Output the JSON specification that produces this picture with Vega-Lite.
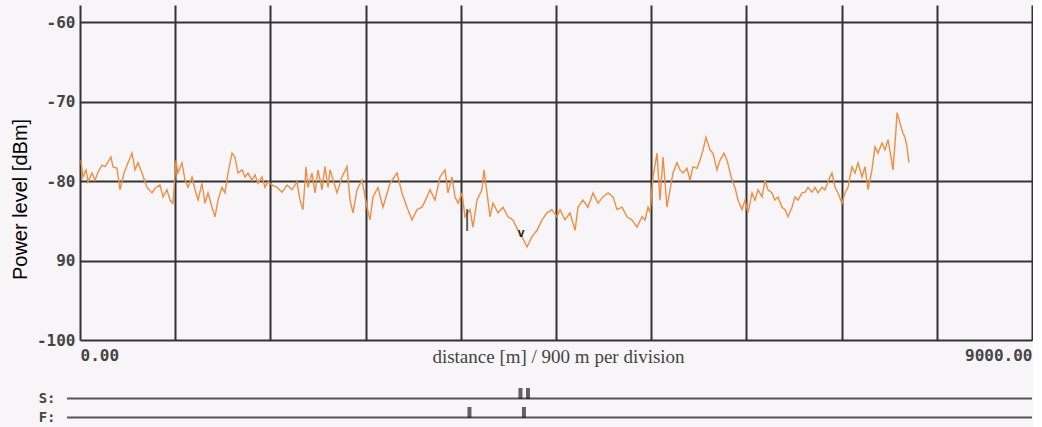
{
  "$schema": "https://vega.github.io/schema/vega-lite/v6.json",
  "autosize": {"type": "pad"},
  "padding": {"left": 10, "top": 5, "right": 0, "bottom": 0},
  "background": "#f8f5f8",
  "bounds": "flush",
  "spacing": 49,
  "config": {"view": {"stroke": null}},
  "datasets": {
    "trace": [
      {"d": 9, "p": -77.4}, {"d": 28, "p": -79.5}, {"d": 57, "p": -78.6}, {"d": 76, "p": -80.1},
      {"d": 113, "p": -79.0}, {"d": 142, "p": -79.9}, {"d": 170, "p": -78.9}, {"d": 208, "p": -78.0},
      {"d": 236, "p": -78.2}, {"d": 265, "p": -77.6}, {"d": 293, "p": -77.0}, {"d": 312, "p": -78.2},
      {"d": 350, "p": -78.4}, {"d": 378, "p": -81.1}, {"d": 416, "p": -79.0}, {"d": 454, "p": -77.7},
      {"d": 492, "p": -76.5}, {"d": 520, "p": -78.6}, {"d": 548, "p": -77.7}, {"d": 586, "p": -79.0},
      {"d": 633, "p": -80.8}, {"d": 681, "p": -81.5}, {"d": 709, "p": -80.9}, {"d": 756, "p": -80.5},
      {"d": 785, "p": -82.0}, {"d": 822, "p": -81.1}, {"d": 851, "p": -82.4}, {"d": 879, "p": -82.8},
      {"d": 908, "p": -77.4}, {"d": 926, "p": -79.0}, {"d": 964, "p": -77.7}, {"d": 993, "p": -79.9},
      {"d": 1021, "p": -80.8}, {"d": 1059, "p": -79.5}, {"d": 1087, "p": -81.1}, {"d": 1116, "p": -82.4},
      {"d": 1153, "p": -80.3}, {"d": 1182, "p": -82.8}, {"d": 1210, "p": -81.5}, {"d": 1248, "p": -83.3},
      {"d": 1276, "p": -84.5}, {"d": 1305, "p": -82.4}, {"d": 1342, "p": -80.8}, {"d": 1371, "p": -81.5},
      {"d": 1399, "p": -79.0}, {"d": 1437, "p": -76.5}, {"d": 1465, "p": -77.0}, {"d": 1494, "p": -79.0},
      {"d": 1532, "p": -78.6}, {"d": 1560, "p": -79.5}, {"d": 1588, "p": -79.0}, {"d": 1626, "p": -79.9},
      {"d": 1654, "p": -79.2}, {"d": 1683, "p": -80.3}, {"d": 1721, "p": -79.5}, {"d": 1749, "p": -80.8},
      {"d": 1777, "p": -80.1}, {"d": 1815, "p": -80.5}, {"d": 1862, "p": -80.8}, {"d": 1910, "p": -81.4},
      {"d": 1957, "p": -80.5}, {"d": 2004, "p": -81.1}, {"d": 2051, "p": -80.1}, {"d": 2080, "p": -82.4},
      {"d": 2108, "p": -83.6}, {"d": 2137, "p": -78.2}, {"d": 2155, "p": -80.8}, {"d": 2193, "p": -79.0},
      {"d": 2222, "p": -81.5}, {"d": 2250, "p": -78.6}, {"d": 2288, "p": -81.1}, {"d": 2316, "p": -78.2},
      {"d": 2345, "p": -80.8}, {"d": 2364, "p": -78.6}, {"d": 2430, "p": -81.5}, {"d": 2477, "p": -79.5},
      {"d": 2524, "p": -78.2}, {"d": 2553, "p": -82.4}, {"d": 2581, "p": -84.0}, {"d": 2619, "p": -81.1},
      {"d": 2666, "p": -79.9}, {"d": 2713, "p": -83.3}, {"d": 2742, "p": -84.9}, {"d": 2770, "p": -82.0},
      {"d": 2817, "p": -80.8}, {"d": 2864, "p": -83.3}, {"d": 2931, "p": -80.3}, {"d": 2997, "p": -79.0},
      {"d": 3044, "p": -81.5}, {"d": 3091, "p": -83.3}, {"d": 3139, "p": -84.9}, {"d": 3186, "p": -83.6},
      {"d": 3233, "p": -83.3}, {"d": 3280, "p": -82.0}, {"d": 3309, "p": -81.1}, {"d": 3356, "p": -82.4},
      {"d": 3403, "p": -79.5}, {"d": 3451, "p": -78.6}, {"d": 3479, "p": -81.5}, {"d": 3517, "p": -79.5},
      {"d": 3545, "p": -82.0}, {"d": 3574, "p": -82.8}, {"d": 3611, "p": -81.5}, {"d": 3640, "p": -84.5},
      {"d": 3687, "p": -83.6}, {"d": 3715, "p": -85.8}, {"d": 3753, "p": -82.4}, {"d": 3800, "p": -81.1},
      {"d": 3819, "p": -78.6}, {"d": 3848, "p": -81.5}, {"d": 3876, "p": -84.5}, {"d": 3904, "p": -82.8},
      {"d": 3952, "p": -84.0}, {"d": 3999, "p": -83.3}, {"d": 4046, "p": -84.5}, {"d": 4093, "p": -84.9},
      {"d": 4141, "p": -86.2}, {"d": 4179, "p": -87.0}, {"d": 4226, "p": -88.3}, {"d": 4273, "p": -87.0},
      {"d": 4320, "p": -86.2}, {"d": 4368, "p": -84.9}, {"d": 4415, "p": -84.0}, {"d": 4462, "p": -83.6},
      {"d": 4509, "p": -84.5}, {"d": 4538, "p": -83.6}, {"d": 4585, "p": -84.9}, {"d": 4632, "p": -84.0},
      {"d": 4680, "p": -86.2}, {"d": 4708, "p": -83.3}, {"d": 4755, "p": -82.4}, {"d": 4802, "p": -83.3},
      {"d": 4850, "p": -81.5}, {"d": 4897, "p": -82.8}, {"d": 4944, "p": -82.0}, {"d": 4992, "p": -81.5},
      {"d": 5039, "p": -82.0}, {"d": 5077, "p": -83.6}, {"d": 5124, "p": -83.3}, {"d": 5171, "p": -84.5},
      {"d": 5218, "p": -84.9}, {"d": 5266, "p": -85.8}, {"d": 5313, "p": -84.5}, {"d": 5341, "p": -84.9},
      {"d": 5370, "p": -83.3}, {"d": 5389, "p": -84.0}, {"d": 5417, "p": -79.5}, {"d": 5455, "p": -76.5},
      {"d": 5483, "p": -82.4}, {"d": 5512, "p": -77.0}, {"d": 5549, "p": -83.3}, {"d": 5578, "p": -81.1},
      {"d": 5606, "p": -79.0}, {"d": 5644, "p": -77.7}, {"d": 5672, "p": -78.6}, {"d": 5701, "p": -79.0},
      {"d": 5738, "p": -78.4}, {"d": 5767, "p": -79.9}, {"d": 5795, "p": -78.2}, {"d": 5833, "p": -78.4},
      {"d": 5861, "p": -77.4}, {"d": 5890, "p": -76.1}, {"d": 5918, "p": -74.5}, {"d": 5956, "p": -76.1},
      {"d": 5984, "p": -76.5}, {"d": 6022, "p": -78.6}, {"d": 6050, "p": -77.4}, {"d": 6088, "p": -76.5},
      {"d": 6117, "p": -77.4}, {"d": 6164, "p": -79.9}, {"d": 6192, "p": -80.8}, {"d": 6221, "p": -82.4},
      {"d": 6258, "p": -83.6}, {"d": 6287, "p": -82.4}, {"d": 6315, "p": -84.0}, {"d": 6353, "p": -81.5},
      {"d": 6381, "p": -82.4}, {"d": 6410, "p": -81.1}, {"d": 6448, "p": -82.0}, {"d": 6476, "p": -79.9},
      {"d": 6504, "p": -81.1}, {"d": 6542, "p": -81.5}, {"d": 6570, "p": -82.4}, {"d": 6599, "p": -82.0},
      {"d": 6637, "p": -83.3}, {"d": 6665, "p": -83.6}, {"d": 6693, "p": -84.5}, {"d": 6731, "p": -83.3},
      {"d": 6759, "p": -82.0}, {"d": 6788, "p": -82.4}, {"d": 6826, "p": -81.5}, {"d": 6854, "p": -81.4},
      {"d": 6882, "p": -80.8}, {"d": 6920, "p": -81.4}, {"d": 6949, "p": -80.8}, {"d": 6977, "p": -81.5},
      {"d": 7015, "p": -80.8}, {"d": 7043, "p": -81.1}, {"d": 7071, "p": -80.1}, {"d": 7109, "p": -79.0},
      {"d": 7138, "p": -80.8}, {"d": 7166, "p": -81.5}, {"d": 7204, "p": -82.8}, {"d": 7232, "p": -81.5},
      {"d": 7261, "p": -80.8}, {"d": 7298, "p": -78.2}, {"d": 7327, "p": -79.0}, {"d": 7355, "p": -77.7},
      {"d": 7393, "p": -79.5}, {"d": 7421, "p": -78.2}, {"d": 7450, "p": -81.1}, {"d": 7487, "p": -78.6},
      {"d": 7516, "p": -75.7}, {"d": 7544, "p": -76.5}, {"d": 7582, "p": -75.2}, {"d": 7610, "p": -76.1},
      {"d": 7639, "p": -74.8}, {"d": 7667, "p": -77.0}, {"d": 7686, "p": -78.6}, {"d": 7714, "p": -73.6},
      {"d": 7724, "p": -71.4}, {"d": 7752, "p": -72.7}, {"d": 7780, "p": -74.0}, {"d": 7799, "p": -74.5},
      {"d": 7818, "p": -75.7}, {"d": 7837, "p": -77.7}
    ],
    "cursor": [{"d": 3660, "p": -84.9}],
    "vmark": [{"d": 4170, "p": -86.6}],
    "sf": [
      {"row": "S", "start": -123, "end": 9000},
      {"row": "F", "start": -123, "end": 9000}
    ],
    "marks": [
      {"row": "S", "pos": 4164}, {"row": "S", "pos": 4235},
      {"row": "F", "pos": 3682}, {"row": "F", "pos": 4197}
    ]
  },
  "vconcat": [
    {
      "width": 952,
      "height": 335,
      "layer": [
        {
          "data": {"name": "trace"},
          "mark": {"type": "line", "color": "#ec8f45", "strokeWidth": 1.4},
          "encoding": {
            "x": {
              "field": "d", "type": "quantitative",
              "scale": {"domain": [0, 9000]},
              "axis": {
                "values": [0, 900, 1800, 2700, 3600, 4500, 5400, 6300, 7200, 8100, 9000],
                "grid": true, "gridColor": "#333333", "gridWidth": 2, "gridOpacity": 1,
                "ticks": false, "domain": false,
                "labelExpr": "datum.value == 0 ? '0.00' : (datum.value == 9000 ? '9000.00' : '')",
                "labelFlush": true, "labelOverlap": false, "labelPadding": 7,
                "labelFont": "DejaVu Sans Mono", "labelFontWeight": "bold", "labelFontSize": 16, "labelColor": "#444444",
                "title": "distance [m] / 900 m per division",
                "titleFont": "Liberation Serif", "titleFontWeight": "normal", "titleFontSize": 19, "titleColor": "#444444",
                "titleX": 478, "titleY": 7, "titleBaseline": "top", "titleAlign": "center"
              }
            },
            "y": {
              "field": "p", "type": "quantitative",
              "scale": {"domain": [-100, -57.86], "nice": false, "zero": false},
              "axis": {
                "values": [-100, -90, -80, -70, -60],
                "grid": true, "gridColor": "#333333", "gridWidth": 2, "gridOpacity": 1,
                "ticks": false, "domain": false, "labelPadding": 5,
                "labelExpr": "datum.value == -90 ? '90' : '' + datum.value",
                "labelFont": "DejaVu Sans Mono", "labelFontWeight": "bold", "labelFontSize": 16, "labelColor": "#444444",
                "title": "Power level [dBm]",
                "titleFont": "Liberation Sans", "titleFontWeight": "normal", "titleFontSize": 20, "titleColor": "#000000",
                "titleX": -60, "titleY": 194, "titleAngle": -90, "titleAlign": "center", "titleBaseline": "middle"
              }
            }
          }
        },
        {
          "data": {"name": "cursor"},
          "mark": {"type": "tick", "orient": "vertical", "color": "#222222", "thickness": 2, "size": 22},
          "encoding": {
            "x": {"field": "d", "type": "quantitative"},
            "y": {"field": "p", "type": "quantitative"}
          }
        },
        {
          "data": {"name": "vmark"},
          "mark": {"type": "text", "text": "v", "fontWeight": "bold", "fontSize": 12, "color": "#222222"},
          "encoding": {
            "x": {"field": "d", "type": "quantitative"},
            "y": {"field": "p", "type": "quantitative"}
          }
        }
      ]
    },
    {
      "width": 952,
      "height": 38,
      "layer": [
        {
          "data": {"name": "sf"},
          "mark": {"type": "rule", "color": "#555555", "strokeWidth": 1.8},
          "encoding": {
            "x": {"field": "start", "type": "quantitative", "scale": {"domain": [0, 9000]}, "axis": null},
            "x2": {"field": "end"},
            "y": {
              "field": "row", "type": "nominal", "sort": ["S", "F"],
              "axis": {
                "title": null, "domain": false, "ticks": false, "grid": false, "labelPadding": 25,
                "labelExpr": "datum.value + ':'",
                "labelFont": "DejaVu Sans Mono", "labelFontWeight": "bold", "labelFontSize": 14, "labelColor": "#444444"
              }
            }
          }
        },
        {
          "data": {"name": "marks"},
          "mark": {"type": "tick", "orient": "vertical", "color": "#222222", "thickness": 4, "size": 11, "yOffset": -5},
          "encoding": {
            "x": {"field": "pos", "type": "quantitative"},
            "y": {"field": "row", "type": "nominal", "sort": ["S", "F"]}
          }
        }
      ]
    }
  ]
}
